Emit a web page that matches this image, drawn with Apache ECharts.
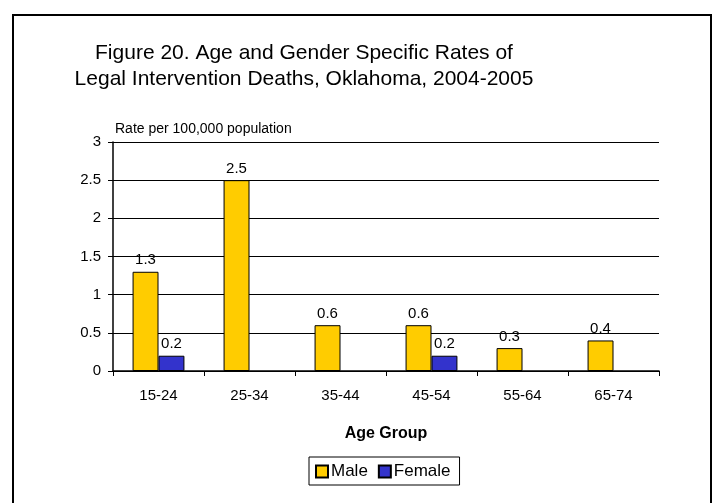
<!DOCTYPE html>
<html>
<head>
<meta charset="utf-8">
<script src="https://cdn.jsdelivr.net/npm/echarts@6/dist/echarts.min.js"></script>
<style>
  html, body { margin: 0; padding: 0; background: #fff; }
  #chart { width: 712px; height: 503px; }
</style>
</head>
<body>
<div id="chart"></div>
<script>
// age groups on the x axis
const ageGroups = ['15-24', '25-34', '35-44', '45-54', '55-64', '65-74'];
// rates per 100,000 population
const maleRates = [1.3, 2.5, 0.6, 0.6, 0.3, 0.4];
const femaleRates = [0.2, null, null, 0.2, null, null];
const yTicks = [0, 0.5, 1, 1.5, 2, 2.5, 3];

const chart = echarts.init(document.getElementById('chart'));
const font = 'Arial, "Liberation Sans", sans-serif';

const labelStyle = {
  show: true,
  position: 'top',
  distance: 4,
  color: '#000',
  fontSize: 15,
  fontFamily: font
};

const option = {
  backgroundColor: '#fff',
  animation: false,
  textStyle: { fontFamily: font },
  title: {
    text: 'Figure 20. Age and Gender Specific Rates of\nLegal Intervention Deaths, Oklahoma, 2004-2005',
    left: 299,
    top: 35,
    textAlign: 'center',
    textStyle: {
      fontSize: 21,
      fontWeight: 'normal',
      color: '#000',
      fontFamily: font,
      lineHeight: 26
    }
  },
  graphic: [
    {
      type: 'polyline',
      shape: { points: [[13, 503], [13, 15], [711, 15], [711, 503]] },
      style: { stroke: '#000', lineWidth: 2, fill: null }
    }
  ],
  legend: {
    data: ['Male', 'Female'],
    bottom: 18,
    left: 309,
    itemWidth: 12,
    itemHeight: 12,
    itemGap: 10,
    padding: [6, 9, 5, 6],
    borderColor: '#000',
    borderWidth: 1,
    icon: 'rect',
    textStyle: { fontSize: 17, color: '#000', fontFamily: font, padding: [0, 0, 0, -2] }
  },
  grid: {
    left: 113,
    right: 53,
    top: 142,
    bottom: 132,
    containLabel: false
  },
  xAxis: {
    type: 'category',
    data: ageGroups,
    name: 'Age Group',
    nameLocation: 'middle',
    nameGap: 55,
    nameTextStyle: { fontSize: 16, fontWeight: 'bold', color: '#000', fontFamily: font },
    axisLine: { lineStyle: { color: '#000', width: 1.5 } },
    axisTick: { show: true, alignWithLabel: false, length: 5, inside: false, lineStyle: { color: '#000' } },
    axisLabel: { fontSize: 15, color: '#000', margin: 17, fontFamily: font },
    splitLine: { show: false }
  },
  yAxis: {
    type: 'value',
    min: 0,
    max: 3,
    interval: 0.5,
    name: 'Rate per 100,000 population',
    nameLocation: 'end',
    nameGap: 6,
    nameTextStyle: { fontSize: 14, color: '#000', align: 'left', fontFamily: font, padding: [0, 0, 0, 2] },
    axisLine: { show: true, lineStyle: { color: '#000', width: 1.5 } },
    axisTick: { show: true, length: 5, lineStyle: { color: '#000' } },
    axisLabel: {
      fontSize: 15,
      color: '#000',
      margin: 12,
      fontFamily: font,
      formatter: v => (yTicks.includes(v) ? String(v) : '')
    },
    splitLine: { show: true, lineStyle: { color: '#000', width: 1 } }
  },
  series: [
    {
      name: 'Male',
      type: 'bar',
      data: maleRates,
      barGap: '0%',
      barCategoryGap: '43%',
      itemStyle: { color: '#FFCC00', borderColor: '#000', borderWidth: 1 },
      label: labelStyle
    },
    {
      name: 'Female',
      type: 'bar',
      data: femaleRates,
      itemStyle: { color: '#3333CC', borderColor: '#000', borderWidth: 1 },
      label: labelStyle
    }
  ]
};

chart.setOption(option);
</script>
</body>
</html>
